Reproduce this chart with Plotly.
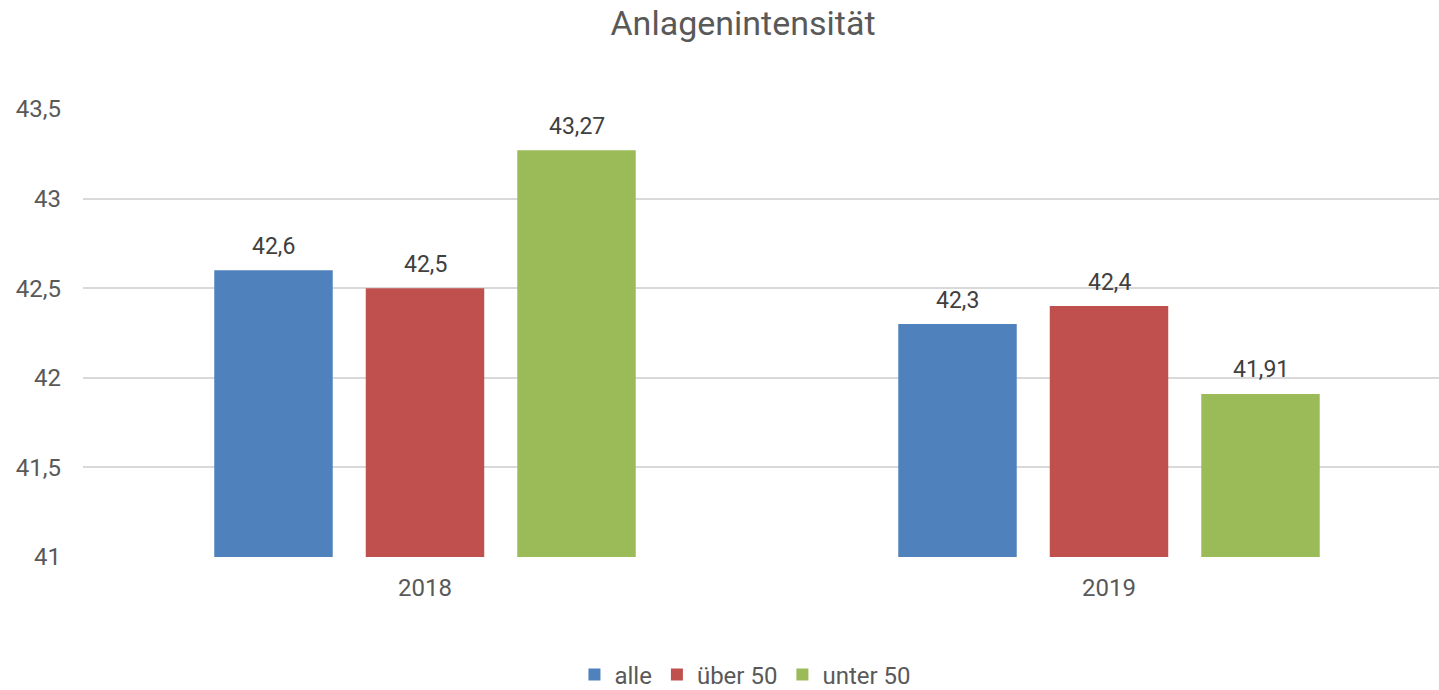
import plotly.graph_objects as go

categories = ["2018", "2019"]
series_names = ["alle", "über 50", "unter 50"]
alle = [42.6, 42.3]
ueber50 = [42.5, 42.4]
unter50 = [43.27, 41.91]
label_alle = ["42,6", "42,3"]
label_ueber50 = ["42,5", "42,4"]
label_unter50 = ["43,27", "41,91"]
colors = ["#4F81BD", "#C0504D", "#9BBB59"]

font_family = "Roboto, 'Open Sans', sans-serif"
text_color = "#595959"

W, H = 1439, 690
ML, MR, MT, MB = 83, 0, 109, 133
cat_px = 684.0
x_span = (W - ML - MR) / cat_px
x_range = [-0.5, -0.5 + x_span]
bargap = 0.3355
bargroupgap = 0.218
slot_px = cat_px * (1 - bargap) / 3

fig = go.Figure()
all_vals = [alle, ueber50, unter50]
all_labels = [label_alle, label_ueber50, label_unter50]
for i, (name, vals, labels, col) in enumerate(zip(series_names, all_vals, all_labels, colors)):
    fig.add_trace(go.Bar(
        name=name, x=categories, y=[v - 41 for v in vals], base=41,
        marker=dict(color=col, line=dict(width=0)),
        hoverinfo="skip",
    ))
    for j, (v, lab) in enumerate(zip(vals, labels)):
        fig.add_annotation(
            x=j, y=v, xref="x", yref="y", text=lab, showarrow=False,
            xshift=(i - 1) * slot_px, yshift=24, yanchor="middle",
            font=dict(size=23, color="#404040", family=font_family),
        )

fig.update_layout(
    width=W, height=H,
    paper_bgcolor="white", plot_bgcolor="white",
    separators=",.",
    margin=dict(l=ML, r=MR, t=MT, b=MB, autoexpand=False),
    barmode="group", bargap=bargap, bargroupgap=bargroupgap,
    title=dict(text="Anlagenintensität", x=743 / W, xanchor="center",
               y=1 - 23 / H, yanchor="middle", yref="container",
               font=dict(size=34, color=text_color, family=font_family)),
    xaxis=dict(type="category", range=x_range, showgrid=False,
               showline=False, zeroline=False, ticks="", automargin=False,
               tickfont=dict(size=24, color=text_color, family=font_family),
               ticklabelstandoff=14),
    yaxis=dict(range=[41, 43.5], dtick=0.5, tick0=41, showgrid=True,
               gridcolor="#D9D9D9", gridwidth=1.5, zeroline=False,
               showline=False, ticks="", automargin=False,
               tickfont=dict(size=24, color=text_color, family=font_family),
               ticklabelstandoff=21),
    legend=dict(orientation="h", x=703 / W, xanchor="center",
                y=(690 - 675) / H, yref="container", yanchor="middle",
                font=dict(size=24, color=text_color, family=font_family),
                itemwidth=30, traceorder="normal", borderwidth=0,
                bgcolor="rgba(0,0,0,0)"),
)

fig.write_html("out.html", config={"displayModeBar": False},
               post_script="document.body.style.margin='0';")
